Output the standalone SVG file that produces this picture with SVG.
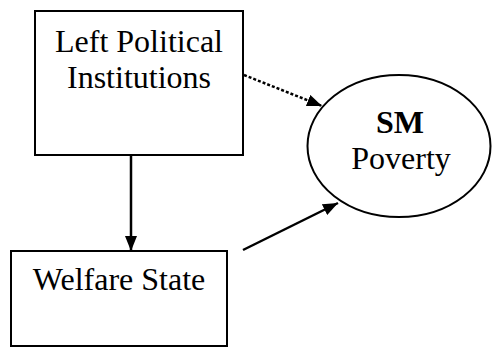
<svg xmlns="http://www.w3.org/2000/svg" width="492" height="347" viewBox="0 0 492 347">
<style>
.box{fill:#fff;stroke:#000;stroke-width:2}
.t{font-family:"Liberation Serif","Times New Roman",serif;font-size:32px;fill:#000;text-anchor:middle}
.b{font-weight:bold}
.c{stroke:#000;stroke-width:2.5;fill:none}
.d{stroke-dasharray:3 2}
</style>
<defs>
<marker id="ah" markerWidth="15" markerHeight="12" refX="15" refY="6" orient="auto" markerUnits="userSpaceOnUse">
<path d="M0,0 L15,6 L0,12 Z" fill="#000"/>
</marker>
</defs>
<rect width="492" height="347" fill="#fff"/>
<g id="left-political">
<rect class="box" x="35" y="11" width="208" height="144"/>
<text class="t" x="139" y="52">Left Political</text>
<text class="t" x="139" y="88">Institutions</text>
</g>
<g id="welfare-state">
<rect class="box" x="11" y="251" width="216" height="95"/>
<text class="t" x="119" y="290">Welfare State</text>
</g>
<g id="sm-poverty">
<ellipse class="box" cx="399" cy="146" rx="91.5" ry="71"/>
<text class="t b" x="400" y="133">SM</text>
<text class="t" x="401" y="169">Poverty</text>
</g>
<g id="connectors">
<line class="c d" x1="244" y1="75" x2="322" y2="106" marker-end="url(#ah)"/>
<line class="c" x1="243" y1="250" x2="338" y2="203" marker-end="url(#ah)"/>
<line class="c" x1="131" y1="155" x2="131" y2="251" marker-end="url(#ah)"/>
</g>
</svg>
